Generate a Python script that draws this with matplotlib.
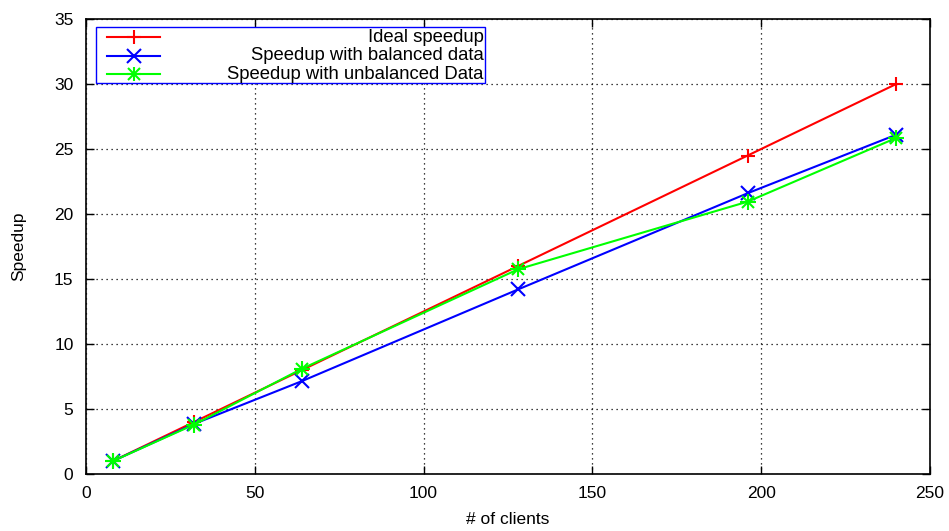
import matplotlib
matplotlib.use('Agg')
import matplotlib.pyplot as plt
from matplotlib.patches import Rectangle
from matplotlib.lines import Line2D

plt.rcParams['font.family'] = ['Liberation Sans', 'DejaVu Sans']
plt.rcParams['font.size'] = 12.5

clients = [8, 32, 64, 128, 196, 240]
ideal = [1, 4, 8, 16, 24.5, 30]
balanced = [1, 3.85, 7.15, 14.2, 21.6, 26.1]
unbalanced = [1, 3.8, 8.1, 15.75, 20.95, 25.85]

labels = ['Ideal speedup', 'Speedup with balanced data', 'Speedup with unbalanced Data']

fig = plt.figure(figsize=(9.49, 5.31), dpi=100)
ax = fig.add_axes([86/949, 1 - 474/531, 844/949, 455/531])

ms = 10
mew = 1.5
lw = 1.5
ax.plot(clients, ideal, color='#ff0000', lw=lw, marker='+', ms=ms, mew=mew, zorder=3)
ax.plot(clients, balanced, color='#0000ff', lw=lw, marker='x', ms=ms, mew=mew, zorder=3)
# gnuplot style asterisk: + and x on top of each other
ax.plot(clients, unbalanced, color='#00ff00', lw=lw, marker='+', ms=ms + 1, mew=mew, zorder=4)
ax.plot(clients, unbalanced, color='#00ff00', lw=0, marker='x', ms=ms - 2, mew=mew, zorder=4)

ax.set_xlim(0, 250)
ax.set_ylim(0, 35)
ax.set_xticks(range(0, 251, 50))
ax.set_yticks(range(0, 36, 5))
ax.grid(True, color='black', linestyle=(0, (1, 3)), linewidth=0.9)
ax.tick_params(direction='in', top=True, right=True, length=6, width=1, labelsize=12.5)
ax.tick_params(axis='x', pad=9)
ax.tick_params(axis='y', pad=9)
for s in ax.spines.values():
    s.set_linewidth(1.2)
ax.set_xlabel('# of clients', fontsize=12.5)
ax.set_ylabel('Speedup', fontsize=12.5)
ax.xaxis.set_label_coords(0.5, -0.083)
ax.yaxis.set_label_coords(-0.071, 0.5)

# legend drawn by hand so that text is right aligned like gnuplot
tr = ax.transAxes
ax.add_patch(Rectangle((0.012, 0.859), 0.461, 0.123, transform=tr, fill=True,
                       facecolor='white', edgecolor='#0000ff', lw=1.0, zorder=5))
rows = [0.960, 0.919, 0.879]
styles = [('#ff0000', ['+']), ('#0000ff', ['x']), ('#00ff00', ['+', 'x'])]
for y, (c, mks), lab in zip(rows, styles, labels):
    ax.add_line(Line2D([0.025, 0.088], [y, y], transform=tr, color=c, lw=lw, zorder=6))
    for m in mks:
        size = ms if m == '+' else ms - (2 if len(mks) > 1 else 0)
        ax.add_line(Line2D([0.0565], [y], transform=tr, color=c, lw=0, marker=m,
                           ms=size, mew=mew, zorder=6))
    ax.text(0.471, y, lab, transform=tr, ha='right', va='center', fontsize=13.3, zorder=6)

fig.savefig('out.png', dpi=100)
